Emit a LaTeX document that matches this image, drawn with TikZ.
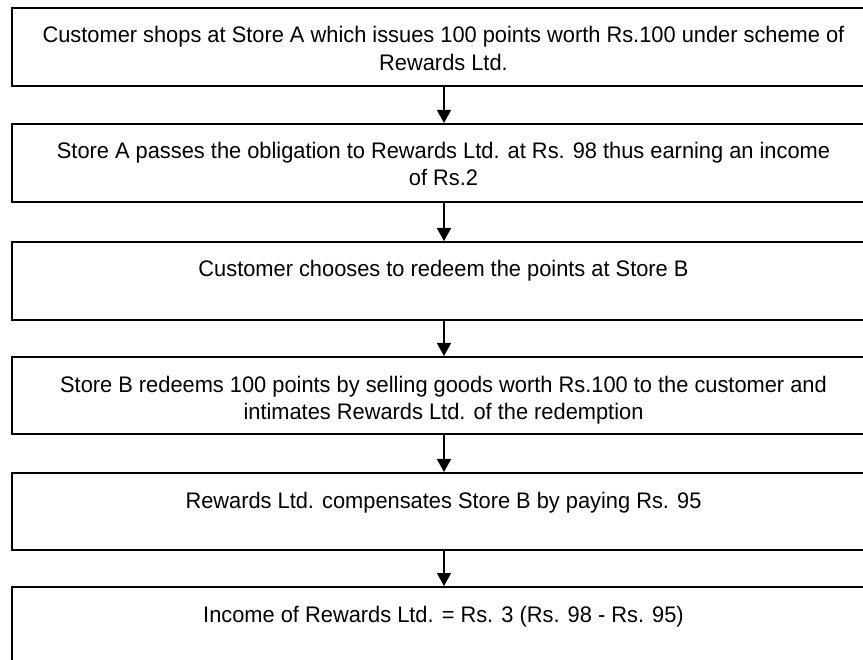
\documentclass[tikz,border=0pt]{standalone}
\usepackage{fontspec}
\setmainfont{Liberation Sans}[FakeStretch=0.97]
\usetikzlibrary{arrows.meta}
\begin{document}
\begin{tikzpicture}[x=1pt,y=1pt,
  stepbox/.style={draw=black,line width=2pt,rectangle,minimum width=864pt,minimum height=78pt,inner sep=0pt,anchor=north west},
  steptext/.style={anchor=base,align=center,font=\fontsize{22.5}{27.5}\selectfont,inner sep=0pt},
  flow/.style={-{Triangle[length=13pt,width=14pt]},line width=1.6pt}]
\clip (0,0) rectangle (863,-660);
\useasboundingbox (0,0) rectangle (863,-660);
\node[stepbox] (b1) at (11,-7) {};
\node[stepbox] (b2) at (11,-123) {};
\node[stepbox] (b3) at (11,-241) {};
\node[stepbox,minimum height=77pt] (b4) at (11,-356) {};
\node[stepbox,minimum height=77pt] (b5) at (11,-472) {};
\node[stepbox] (b6) at (11,-586) {};
\node[steptext] (t1) at (443.5,-70.5) {Customer shops at Store A which issues 100 points worth Rs.100 under scheme of\\Rewards Ltd.};
\node[steptext] (t2) at (443.5,-186) {Store A passes the obligation to Rewards Ltd. at Rs. 98 thus earning an income\\of Rs.2};
\node[steptext] (t3) at (443.5,-277) {Customer chooses to redeem the points at Store B};
\node[steptext] (t4) at (443.5,-420) {Store B redeems 100 points by selling goods worth Rs.100 to the customer and\\intimates Rewards Ltd. of the redemption};
\node[steptext] (t5) at (443.5,-508) {Rewards Ltd. compensates Store B by paying Rs. 95};
\node[steptext] (t6) at (443.5,-622) {Income of Rewards Ltd. = Rs. 3 (Rs. 98 - Rs. 95)};
\draw[flow] (b1.south) -- (b2.north);
\draw[flow] (b2.south) -- (b3.north);
\draw[flow] (b3.south) -- (b4.north);
\draw[flow] (b4.south) -- (b5.north);
\draw[flow] (b5.south) -- (b6.north);
\end{tikzpicture}
\end{document}
